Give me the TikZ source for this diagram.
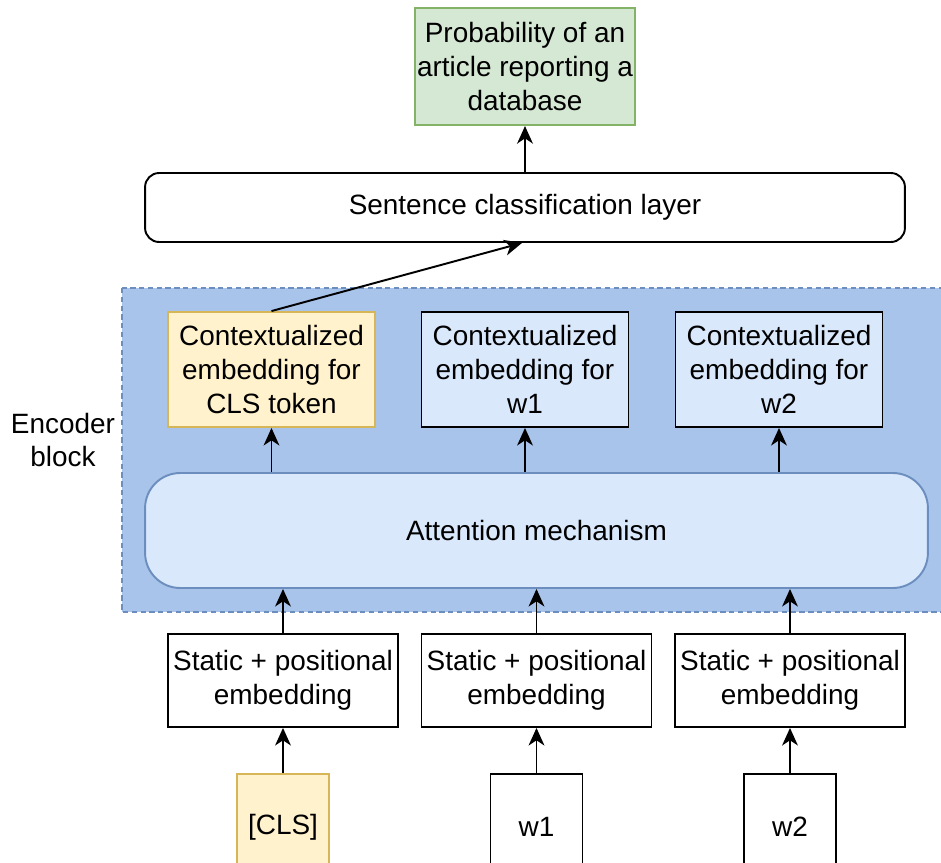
\documentclass[tikz,border=0pt]{standalone}
\usepackage{fontspec}
\setmainfont{Liberation Sans}
\usetikzlibrary{arrows.meta,positioning}
\definecolor{outgreen}{HTML}{D5E8D4}
\definecolor{outgreenline}{HTML}{82B366}
\definecolor{clsyellow}{HTML}{FFF2CC}
\definecolor{clsyellowline}{HTML}{D6B656}
\definecolor{attblue}{HTML}{DAE8FC}
\definecolor{attblueline}{HTML}{6C8EBF}
\definecolor{encblue}{HTML}{A9C4EB}
\tikzset{
  box/.style={
    draw,
    line width=1.1pt,
    align=center,
    inner sep=0pt,
    font=\fontsize{15.9}{19.3}\selectfont
  },
  ctx box/.style={
    box,
    fill=attblue,
    minimum width=4.14cm,
    minimum height=2.3cm
  },
  static box/.style={
    box,
    fill=white,
    minimum width=4.6cm,
    minimum height=1.86cm
  },
  token box/.style={
    box,
    fill=white,
    minimum width=1.84cm,
    minimum height=2.12cm
  },
  encoder/.style={
    fill=encblue,
    draw=attblueline,
    line width=1.1pt,
    dash pattern=on 3pt off 2pt
  }
}

\begin{document}
\begin{tikzpicture} [x=0.02cm, y=-0.02cm, >={Stealth[length=10pt,width=9pt,inset=3pt]},
  line width=1.1pt]
 \useasboundingbox (0,0) rectangle (941,863);
 \clip (0,0) rectangle (941,863);

 % encoder block in the background
 \draw[encoder] (122,288) rectangle (960,612);
 \node[align=center, font=\fontsize{15.9}{19.3}\selectfont] (enc) at (63,440) {Encoder\\block};

 \node[box, rounded corners=8pt, fill=white, minimum width=15.2cm, minimum height=1.38cm]
   (layer) at (525,207.5) {Sentence classification layer};
 \node[box, draw=outgreenline, fill=outgreen, minimum width=4.4cm, minimum height=2.34cm]
   (out) [above=0.92cm of layer] {Probability of an\\article reporting a\\database};

 \node[ctx box, fill=clsyellow, draw=clsyellowline] (c0) at (271.5,369.5) {Contextualized\\embedding for\\CLS token};
 \node[ctx box] (c1) at (525,369.5) {Contextualized\\embedding for\\w1};
 \node[ctx box] (c2) at (779,369.5) {Contextualized\\embedding for\\w2};

 \node[box, rounded corners=20pt, fill=attblue, draw=attblueline, minimum width=15.66cm, minimum height=2.3cm]
   (att) at (536.5,530.5) {Attention mechanism};

 \node[static box] (s0) at (283,680.5) {Static + positional\\embedding};
 \node[static box] (s1) at (536.5,680.5) {Static + positional\\embedding};
 \node[static box] (s2) at (790,680.5) {Static + positional\\embedding};

 \node[token box, fill=clsyellow, draw=clsyellowline] (t0) [below=0.9cm of s0] {[CLS]};
 \node[token box] (t1) [below=0.9cm of s1] {w1};
 \node[token box] (t2) [below=0.9cm of s2] {w2};

 \path[->]
  (t0) edge (s0)
  (t1) edge (s1)
  (t2) edge (s2)
  (s0.north) edge (s0.north |- att.south)
  (s1.north) edge (s1.north |- att.south)
  (s2.north) edge (s2.north |- att.south)
  (c0.south |- att.north) edge (c0.south)
  (c1.south |- att.north) edge (c1.south)
  (c2.south |- att.north) edge (c2.south)
  (c0.north) edge ([xshift=-0.06cm]layer.south)
  (layer) edge (out);
\end{tikzpicture}
\end{document}
